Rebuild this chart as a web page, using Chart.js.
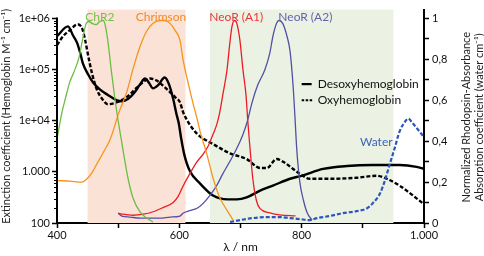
<!DOCTYPE html>
<html><head><meta charset="utf-8">
<script src="https://cdn.jsdelivr.net/npm/chart.js@4"></script>
<style>html,body{margin:0;padding:0;background:#fff}#wrap{width:484px;height:256px}</style>
</head><body><div id="wrap"><canvas id="c" width="484" height="256"></canvas></div>
<script>
// ---- Data ----
const deoxyNm  = [400,418,426,433,438,442,451,459,470,483,498,506,516,527,536,544,550,557,565,576,583,590,595,599,603,608,617,634,655,679,694,710,732,753,781,800,835,874,916,960,988,1000];
const deoxyVal = [4.5e5,7.0e5,4.7e5,3.3e5,2.1e5,1.36e5,8.0e4,5.6e4,4.1e4,3.2e4,2.5e4,2.4e4,2.65e4,3.6e4,5.2e4,6.7e4,5.6e4,4.3e4,4.9e4,7.0e4,5.2e4,2.65e4,1.4e4,9.0e3,4.5e3,2.2e3,1050,590,345,290,290,316,431,538,733,838,1140,1300,1360,1360,1250,1140];

const oxyNm  = [400,410,421,434,441,446,451,457,465,474,483,498,514,531,547,552,563,573,585,593,601,606,614,617,630,655,683,710,732,743,759,773,786,797,813,851,890,923,939,960,982,998];
const oxyVal = [3.0e5,4.5e5,5.9e5,7.7e5,6.4e5,3.8e5,1.86e5,8.7e4,4.1e4,2.65e4,2.1e4,2.3e4,2.9e4,4.5e4,6.4e4,6.7e4,6.1e4,4.9e4,3.6e4,2.9e4,2.3e4,1.49e4,9.6e3,8.4e3,5.4e3,3.5e3,2.3e3,1.78e3,1.19e3,1.19e3,1.78e3,1.49e3,1.14e3,915,733,733,767,838,733,538,345,243];

const chr2Nm  = [400,408,413,421,428,436,442,447,452,458,464,470,476,480,484,489,495,500,505,510,516,524,536,547,557];
const chr2Val = [0.41,0.54,0.60,0.69,0.74,0.81,0.90,0.97,0.985,0.975,0.97,0.985,0.99,0.95,0.87,0.74,0.60,0.50,0.41,0.32,0.22,0.125,0.053,0.024,0.005];

const chrimNm  = [400,421,441,449,457,465,475,487,495,500,514,524,536,547,557,568,576,585,593,601,606,614,622,629,634,645,655,666,678,688];
const chrimVal = [0.207,0.205,0.20,0.216,0.245,0.288,0.341,0.409,0.481,0.53,0.64,0.75,0.865,0.94,0.976,0.99,0.99,0.976,0.942,0.894,0.80,0.69,0.59,0.51,0.447,0.337,0.221,0.125,0.062,0.014];

const neoA1Nm  = [500,508,524,541,557,573,590,598,606,617,629,639,647,655,661,666,671,678,682,686,690,694,699,704,709,712,715,720,726,732,748,764,790];
const neoA1Val = [0.048,0.043,0.038,0.043,0.055,0.075,0.10,0.13,0.18,0.24,0.30,0.337,0.375,0.433,0.48,0.54,0.625,0.75,0.865,0.96,0.99,0.976,0.894,0.75,0.625,0.495,0.385,0.22,0.11,0.07,0.05,0.04,0.035];

const neoA2Nm  = [500,506,519,536,552,568,585,601,606,617,629,639,650,661,671,683,694,704,711,719,728,740,748,753,759,763,769,776,781,786,789,792,797,803,809,817];
const neoA2Val = [0.048,0.034,0.029,0.024,0.024,0.024,0.029,0.034,0.048,0.06,0.072,0.096,0.135,0.183,0.24,0.303,0.365,0.433,0.495,0.59,0.673,0.75,0.832,0.913,0.976,0.99,0.976,0.913,0.84,0.67,0.52,0.36,0.20,0.11,0.05,0.014];

const waterNm  = [683,699,720,743,764,781,797,813,825,846,867,890,907,916,928,936,944,952,960,969,974,982,990,1000];
const waterVal = [0.005,0.014,0.024,0.029,0.029,0.024,0.019,0.014,0.024,0.034,0.048,0.058,0.072,0.096,0.144,0.207,0.288,0.365,0.447,0.495,0.51,0.486,0.457,0.42];

// ---- Axis ticks & labels ----
const xTickValues = [400,500,600,700,800,900,1000];
const xTickLabels = ['400','','600','','800','','1.000'];
const leftTickValues = [100,1000,1e4,1e5,1e6];
const leftTickLabels = ['100','1.000','1e+04','1e+05','1e+06'];
const rightTickValues = [0,0.1,0.2,0.3,0.4,0.5,0.6,0.7,0.8,0.9,1];
const rightTickLabels = ['0','','0,2','','0,4','','0,6','','0,8','','1'];

// shaded wavelength bands
const bandStart = [450,650];
const bandEnd   = [610,950];
const bandColor = ['#fbe2d6','#ebf2e4'];

// text annotations
const annText  = ['ChR2','Chrimson','NeoR (A1)','NeoR (A2)','Water'];
const annNm    = [470,570,693,806,922];
const annColor = ['#77bd4a','#f28a2a','#ee3438','#6462ae','#3d63bc'];

const FONT = 'Lato, "Open Sans", sans-serif';
const pts = (xs, ys) => xs.map((x,i)=>({x:x,y:ys[i]}));

const decor = {
  id:'decor',
  beforeDatasetsDraw(chart){
    const {ctx, chartArea:a, scales:{x}} = chart;
    ctx.save();
    bandStart.forEach((s,i)=>{
      const x1 = x.getPixelForValue(s), x2 = x.getPixelForValue(bandEnd[i]);
      ctx.fillStyle = bandColor[i];
      ctx.fillRect(x1, a.top, x2-x1, a.bottom-a.top);
    });
    ctx.restore();
  },
  afterDraw(chart){
    const {ctx, chartArea:a, scales:{x, y, y2}} = chart;
    ctx.save();
    // left axis line and minor log ticks
    ctx.strokeStyle = '#000';
    ctx.lineWidth = 2;
    ctx.beginPath();
    ctx.moveTo(a.left, y.getPixelForValue(1e6)-1);
    ctx.lineTo(a.left, a.bottom+1);
    ctx.stroke();
    ctx.lineWidth = 1;
    for (let d=100; d<1e6; d*=10){
      for (let m=2; m<=9; m++){
        const py = Math.round(y.getPixelForValue(d*m))+0.5;
        ctx.beginPath(); ctx.moveTo(a.left-3, py); ctx.lineTo(a.left, py); ctx.stroke();
      }
    }
    // annotations
    ctx.font = '12px ' + FONT;
    ctx.textAlign = 'center';
    ctx.textBaseline = 'alphabetic';
    annText.forEach((t,i)=>{
      ctx.fillStyle = annColor[i];
      const px = x.getPixelForValue(annNm[i]);
      const py = (t === 'Water') ? y2.getPixelForValue(0.375) : y2.getPixelForValue(0.99);
      ctx.fillText(t, px, py);
    });
    // legend
    const lx = x.getPixelForValue(800), ly1 = y2.getPixelForValue(0.679), ly2 = y2.getPixelForValue(0.6);
    ctx.strokeStyle = '#000'; ctx.lineWidth = 2.2;
    ctx.beginPath(); ctx.moveTo(lx, ly1); ctx.lineTo(lx+10, ly1); ctx.stroke();
    ctx.setLineDash([2.5,1.5]);
    ctx.beginPath(); ctx.moveTo(lx, ly2); ctx.lineTo(lx+11, ly2); ctx.stroke();
    ctx.setLineDash([]);
    ctx.fillStyle = '#111';
    ctx.textAlign = 'left'; ctx.textBaseline = 'middle';
    ctx.fillText('Desoxyhemoglobin', lx+16, ly1);
    ctx.fillText('Oxyhemoglobin', lx+16, ly2);
    // right axis title (two lines, reading upward)
    ctx.font = '11px ' + FONT;
    ctx.fillStyle = '#222';
    ctx.textAlign = 'center'; ctx.textBaseline = 'middle';
    const cy = (a.top + a.bottom)/2 + 1;
    ctx.translate(466, cy);
    ctx.rotate(-Math.PI/2);
    ctx.fillText('Normalized Rhodopsin-Absorbance', 0, 0);
    ctx.fillText('Absorption coefficient (water cm\u207B\u00B9)', 0, 13);
    ctx.restore();
  }
};

const lineDs = (label, xs, ys, color, axis, width, dash) => ({
  label, data: pts(xs, ys), yAxisID: axis, borderColor: color, borderWidth: width,
  borderDash: dash || [], pointRadius: 0, fill: false, cubicInterpolationMode: 'monotone'
});

new Chart(document.getElementById('c'), {
  type: 'line',
  data: { datasets: [
    lineDs('ChR2', chr2Nm, chr2Val, '#6cbd45', 'y2', 1.3),
    lineDs('Chrimson', chrimNm, chrimVal, '#f7941d', 'y2', 1.3),
    lineDs('NeoR (A1)', neoA1Nm, neoA1Val, '#ed1c24', 'y2', 1.3),
    lineDs('NeoR (A2)', neoA2Nm, neoA2Val, '#5250a4', 'y2', 1.3),
    lineDs('Water', waterNm, waterVal, '#2c56ba', 'y2', 2.2, [4,2]),
    lineDs('Oxyhemoglobin', oxyNm, oxyVal, '#000', 'y', 2.4, [4,2]),
    lineDs('Desoxyhemoglobin', deoxyNm, deoxyVal, '#000', 'y', 2.4)
  ]},
  options: {
    responsive: false, animation: false, devicePixelRatio: 1,
    layout: { padding: { top: 6, left: 0, right: 0, bottom: 0 } },
    plugins: { legend: { display: false }, tooltip: { enabled: false } },
    scales: {
      x: {
        type: 'linear', min: 400, max: 1000,
        afterBuildTicks: s => { s.ticks = xTickValues.map(v=>({value:v})); },
        afterFit: s => { s.height = 33; },
        ticks: { autoSkip: false, maxRotation: 0, padding: 1, color: '#111',
                 font: { family: FONT, size: 11 },
                 callback: (v) => xTickLabels[xTickValues.indexOf(v)] },
        grid: { display: true, drawOnChartArea: false, drawTicks: true, tickLength: 5, color: '#000', tickWidth: 1.5 },
        border: { display: true, color: '#000', width: 2 },
        title: { display: true, text: 'λ / nm', color: '#111', font: { family: FONT, size: 12 }, padding: { top: 0, bottom: 2 } }
      },
      y: {
        type: 'logarithmic', position: 'left', min: 100, max: 1.489e6,
        afterBuildTicks: s => { s.ticks = leftTickValues.map(v=>({value:v})); },
        afterFit: s => { s.width = 57; },
        ticks: { autoSkip: false, padding: 2, color: '#111', font: { family: FONT, size: 11 },
                 callback: (v) => leftTickLabels[leftTickValues.indexOf(v)] },
        grid: { display: true, drawOnChartArea: false, drawTicks: true, tickLength: 5, color: '#000', tickWidth: 1.5 },
        border: { display: false },
        title: { display: true, text: 'Extinction coefficient (Hemoglobin M\u207B\u00B9 cm\u207B\u00B9)', color: '#222',
                 font: { family: FONT, size: 11 }, padding: { top: 0, bottom: 0 } }
      },
      y2: {
        type: 'linear', position: 'right', min: 0, max: 1.0433,
        afterBuildTicks: s => { s.ticks = rightTickValues.map(v=>({value:v})); },
        afterFit: s => { s.width = 60; },
        ticks: { autoSkip: false, padding: 3, color: '#111', font: { family: FONT, size: 11 },
                 callback: (v, i) => rightTickLabels[i] },
        grid: { display: true, drawOnChartArea: false, drawTicks: true, tickLength: 5, color: '#000', tickWidth: 1.5 },
        border: { display: true, color: '#000', width: 2 }
      }
    }
  },
  plugins: [decor]
});
</script>
</body></html>
